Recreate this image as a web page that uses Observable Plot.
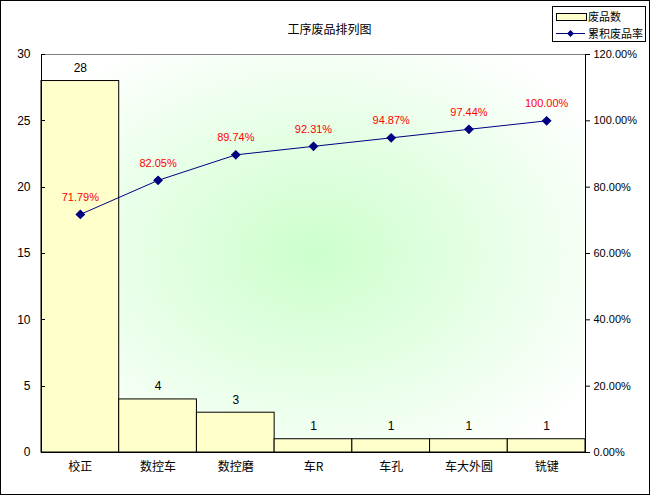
<!DOCTYPE html>
<html><head><meta charset="utf-8">
<script src="https://cdn.jsdelivr.net/npm/d3@7"></script>
<script src="https://cdn.jsdelivr.net/npm/@observablehq/plot@0.6"></script>
<style>
body{margin:0;background:#fff;}
#wrap{position:relative;width:650px;height:495px;}
#wrap > svg{display:block;outline:1px solid #000;outline-offset:-1px;}
#legend{position:absolute;left:552px;top:6px;width:94px;height:36px;border:1px solid #000;background:#fff;box-sizing:border-box;font-family:"Noto Sans CJK SC",sans-serif;font-size:11px;color:#000;}
#legend .row{position:absolute;left:0;height:16px;line-height:16px;}
</style></head>
<body>
<div id="wrap"></div>
<script>
const categories = ["校正","数控车","数控磨","车R","车孔","车大外圆","铣键"];
const counts = [28,4,3,1,1,1,1];
const cumRates = [0.7179,0.8205,0.8974,0.9231,0.9487,0.9744,1.0];
const leftTicks = [0,5,10,15,20,25,30];
const rightTicks = [0,0.2,0.4,0.6,0.8,1.0,1.2];
const title = "工序废品排列图";
const seriesNames = ["废品数","累积废品率"];

const ratio = 30/1.2;
const data = categories.map((c,i)=>({cat:c,count:counts[i],cum:cumRates[i]}));

const cjk = "Noto Sans CJK SC";
const latin = "Liberation Sans";

const plot = Plot.plot({
  width:650, height:495,
  marginLeft:41, marginRight:65, marginTop:54, marginBottom:43,
  style:{fontFamily:latin, fontSize:"12px", color:"#000", background:"transparent"},
  x:{domain:categories, padding:0, round:false, axis:null, label:null},
  y:{domain:[0,30], axis:null, label:null},
  marks:[
    Plot.frame({fill:"url(#bgGrad)", stroke:null}),
    Plot.barY(data,{x:"cat",y:"count",fill:"#ffffcc",stroke:"#000",strokeWidth:1, inset:0}),
    Plot.text(data,{x:"cat",y:"count",text:d=>String(d.count),dy:-13,fontSize:12,fill:"#000"}),
    Plot.line(data,{x:"cat",y:d=>d.cum*ratio,stroke:"#000080",strokeWidth:1}),
    Plot.dot(data,{x:"cat",y:d=>d.cum*ratio,symbol:"diamond2",r:3.5,fill:"#000080",stroke:"#000080"}),
    Plot.text(data,{x:"cat",y:d=>d.cum*ratio,text:d=>(d.cum*100).toFixed(2)+"%",dy:-17,fontSize:11,fill:"#ff0000"}),
    Plot.frame({stroke:"#000",strokeWidth:1}),
    Plot.ruleY([30],{stroke:"#808080",strokeWidth:1}),
    Plot.axisY(leftTicks,{anchor:"left",tickSize:0,tickPadding:11,fontSize:12,label:null,tickFormat:d=>String(d)}),
    Plot.axisY(rightTicks.map(t=>t*ratio),{anchor:"right",tickSize:4,tickPadding:4,fontSize:11,label:null,tickFormat:d=>(d/ratio*100).toFixed(2)+"%"}),
    Plot.axisX({anchor:"bottom",tickSize:0,tickPadding:10,fontFamily:cjk,fontSize:12,label:null}),
    Plot.text([title],{frameAnchor:"top",dy:-29,dx:16,fontFamily:cjk,fontSize:12,fill:"#000"})
  ]
});

const ys = plot.scale("y");
const svg = d3.select(plot);
const defs = svg.insert("defs",":first-child");
const g = defs.append("radialGradient").attr("id","bgGrad").attr("cx","0.5").attr("cy","0.5").attr("r","0.62");
g.append("stop").attr("offset","0%").attr("stop-color","#ccffcc");
g.append("stop").attr("offset","100%").attr("stop-color","#ffffff");

// small inward ticks on the left axis, positioned by Plot's y scale
const tg = svg.append("g").attr("stroke","#000");
leftTicks.forEach(t=>{
  const y = Math.round(ys.apply(t))+0.5;
  tg.append("line").attr("x1",41).attr("x2",45).attr("y1",y).attr("y2",y);
});

document.getElementById("wrap").appendChild(plot);

// Legend
const leg = d3.select("#wrap").append("div").attr("id","legend");
const r1 = leg.append("div").attr("class","row").style("top","1px");
r1.append("span").style("display","inline-block").style("position","absolute").style("left","3px").style("top","5px").style("width","29px").style("height","6px").style("background","#ffffcc").style("border","1px solid #000");
r1.append("span").style("position","absolute").style("left","35px").style("white-space","nowrap").text(seriesNames[0]);
const r2 = leg.append("div").attr("class","row").style("top","18px").style("width","94px");
const ls = r2.append("svg").attr("width",34).attr("height",16).style("position","absolute").style("left","1px").style("top","0");
ls.append("line").attr("x1",2).attr("x2",31).attr("y1",8.5).attr("y2",8.5).attr("stroke","#000080");
ls.append("path").attr("d","M16.5,5 L20,8.5 L16.5,12 L13,8.5Z").attr("fill","#000080");
r2.append("span").style("position","absolute").style("left","35px").style("white-space","nowrap").text(seriesNames[1]);
</script>
</body></html>
